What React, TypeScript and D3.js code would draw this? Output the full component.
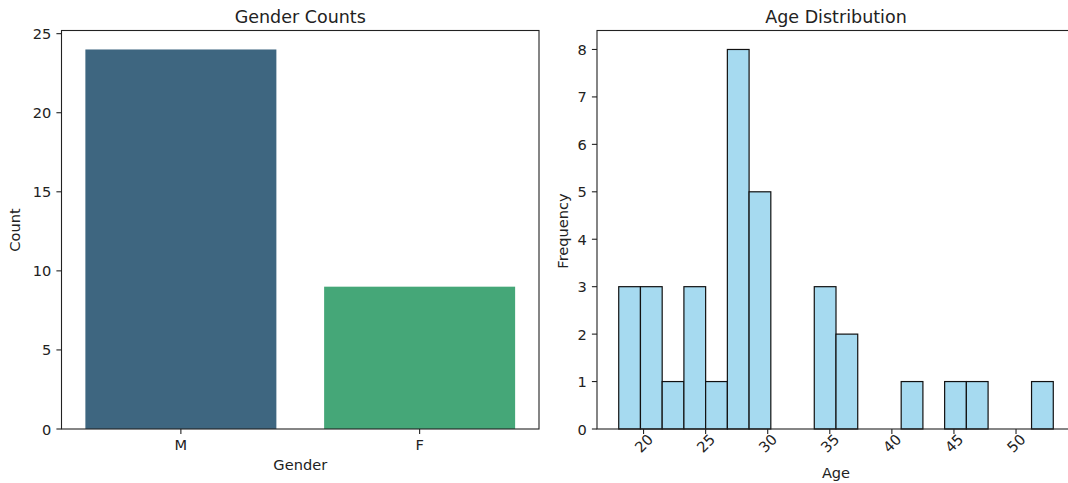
import React from "react";
import * as d3 from "d3";

const genders = ["M", "F"];
const genderCounts = [24, 9];
const genderColors = ["#3e6680", "#45a778"];

const ageBinStart = 18;
const ageBinWidth = 1.75;
const ageBinCounts = [3, 3, 1, 3, 1, 8, 5, 0, 0, 3, 2, 0, 0, 1, 0, 1, 1, 0, 0, 1];
const ageTicks = [20, 25, 30, 35, 40, 45, 50];
const freqTicks = [0, 1, 2, 3, 4, 5, 6, 7, 8];
const countTicks = [0, 5, 10, 15, 20, 25];

const W = 1068;
const H = 483;
const FONT = "DejaVu Sans, sans-serif";
const TICK = 14.6;
const LABEL = 14.6;
const TITLE = 17.5;
const TL = 5.1;
const PAD = 5.1;

const top = 30.5;
const bottom = 429;

export default function App() {
  // Left panel
  const L = { x0: 61.5, x1: 539 };
  const xL = d3.scaleLinear().domain([-0.5, 1.5]).range([L.x0, L.x1]);
  const yL = d3.scaleLinear().domain([0, 25.2]).range([bottom, top]);

  // Right panel
  const R = { x0: 597, x1: 1075 };
  const nb = ageBinCounts.length;
  const xmin = ageBinStart;
  const xmax = ageBinStart + nb * ageBinWidth;
  const m = (xmax - xmin) * 0.05;
  const xR = d3.scaleLinear().domain([xmin - m, xmax + m]).range([R.x0, R.x1]);
  const yR = d3.scaleLinear().domain([0, 8.4]).range([bottom, top]);

  const bins = ageBinCounts.map((c, i) => ({
    x0: ageBinStart + i * ageBinWidth,
    x1: ageBinStart + (i + 1) * ageBinWidth,
    c,
  }));

  const spine = (x0: number, x1: number) => (
    <g fill="none" stroke="#222" strokeWidth={1.1}>
      <rect x={x0} y={top} width={x1 - x0} height={bottom - top} />
    </g>
  );

  return (
    <svg
      width={W}
      height={H}
      style={{ position: "absolute", left: 0, top: 0, background: "#fff" }}
      fontFamily={FONT}
    >
      <rect width={W} height={H} fill="#fff" />
      {/* LEFT */}
      {genders.map((g, i) => (
        <rect
          key={g}
          x={xL(i - 0.4)}
          y={yL(genderCounts[i])}
          width={xL(i + 0.4) - xL(i - 0.4)}
          height={yL(0) - yL(genderCounts[i])}
          fill={genderColors[i]}
        />
      ))}
      {spine(L.x0, L.x1)}
      {countTicks.map((t) => (
        <g key={t}>
          <line x1={L.x0 - TL} x2={L.x0} y1={yL(t)} y2={yL(t)} stroke="#222" strokeWidth={1.1} />
          <text x={L.x0 - TL - PAD} y={yL(t)} textAnchor="end" dominantBaseline="central" fontSize={TICK} fill="#222">
            {t}
          </text>
        </g>
      ))}
      {genders.map((g, i) => (
        <g key={g}>
          <line x1={xL(i)} x2={xL(i)} y1={bottom} y2={bottom + TL} stroke="#222" strokeWidth={1.1} />
          <text x={xL(i)} y={bottom + TL + PAD + 11} textAnchor="middle" fontSize={TICK} fill="#222">
            {g}
          </text>
        </g>
      ))}
      <text x={(L.x0 + L.x1) / 2} y={469.5} textAnchor="middle" fontSize={LABEL} fill="#222">
        Gender
      </text>
      <text
        transform={`translate(${20},${230}) rotate(-90)`}
        textAnchor="middle"
        fontSize={LABEL}
        fill="#222"
      >
        Count
      </text>
      <text x={(L.x0 + L.x1) / 2} y={23} textAnchor="middle" fontSize={TITLE} fill="#222">
        Gender Counts
      </text>

      {/* RIGHT */}
      {bins.map((b, i) =>
        b.c > 0 ? (
          <rect
            key={i}
            x={xR(b.x0)}
            y={yR(b.c)}
            width={xR(b.x1) - xR(b.x0)}
            height={yR(0) - yR(b.c)}
            fill="#a6daf0"
            stroke="#111"
            strokeWidth={1.2}
          />
        ) : null
      )}
      {spine(R.x0, R.x1)}
      {freqTicks.map((t) => (
        <g key={t}>
          <line x1={R.x0 - TL} x2={R.x0} y1={yR(t)} y2={yR(t)} stroke="#222" strokeWidth={1.1} />
          <text x={R.x0 - TL - PAD} y={yR(t)} textAnchor="end" dominantBaseline="central" fontSize={TICK} fill="#222">
            {t}
          </text>
        </g>
      ))}
      {ageTicks.map((t) => (
        <g key={t}>
          <line x1={xR(t)} x2={xR(t)} y1={bottom} y2={bottom + TL} stroke="#222" strokeWidth={1.1} />
          <text
            transform={`translate(${xR(t)},${443}) rotate(-45)`}
            textAnchor="middle"
            dominantBaseline="central"
            fontSize={TICK}
            fill="#222"
          >
            {t}
          </text>
        </g>
      ))}
      <text x={(R.x0 + R.x1) / 2} y={477.5} textAnchor="middle" fontSize={LABEL} fill="#222">
        Age
      </text>
      <text
        transform={`translate(${568},${231}) rotate(-90)`}
        textAnchor="middle"
        fontSize={LABEL}
        fill="#222"
      >
        Frequency
      </text>
      <text x={(R.x0 + R.x1) / 2} y={23} textAnchor="middle" fontSize={TITLE} fill="#222">
        Age Distribution
      </text>
    </svg>
  );
}
